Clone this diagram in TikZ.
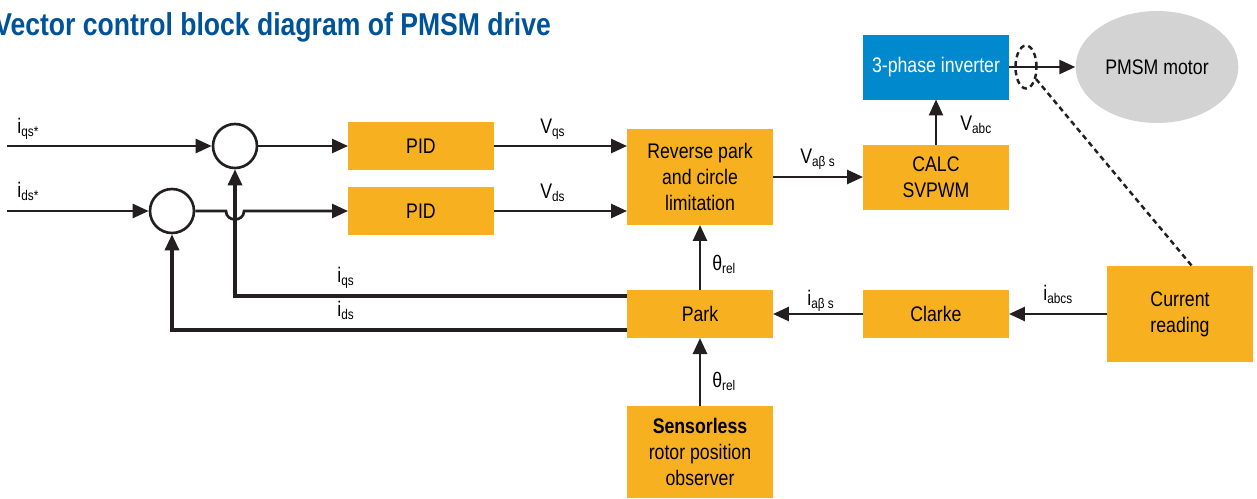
\documentclass[tikz,border=0pt]{standalone}
\usepackage{fontspec}
\setmainfont{Liberation Sans}[FakeStretch=0.84]
\usetikzlibrary{arrows.meta,shapes.geometric,calc}
\definecolor{blockorange}{RGB}{247,176,32}
\definecolor{invblue}{RGB}{0,137,204}
\definecolor{titleblue}{RGB}{0,83,150}
\definecolor{motorgray}{RGB}{211,211,212}
\definecolor{linegray}{RGB}{35,31,32}

\tikzset{
  block/.style={rectangle, fill=blockorange, minimum width=2.92cm, minimum height=0.96cm,
    inner sep=0pt, outer sep=0pt, align=center, font=\fontsize{12}{14.8}\selectfont},
  sumnode/.style={circle, draw=linegray, line width=1.5pt, minimum size=0.88cm, inner sep=0pt},
  sig/.style={line width=1.5pt, draw=linegray, -{Triangle[length=0.32cm,width=0.28cm]}},
  fb/.style={sig, line width=1.9pt},
  tapline/.style={line width=1.4pt, draw=linegray, dash pattern=on 3pt off 2.2pt},
  lbl/.style={anchor=base west, inner sep=0pt, font=\fontsize{12}{14}\selectfont},
}

\begin{document}
\begin{tikzpicture}[x=0.02cm, y=-0.02cm]
\useasboundingbox (0,0) rectangle (1257,498);

% title
\node[anchor=base west, inner sep=0pt, text=titleblue, font=\fontsize{18}{21}\selectfont\bfseries]
  (title) at (-6,35) {Vector control block diagram of PMSM drive};

% blocks
\node[block] (pid1) at (421,146) {PID};
\node[block] (pid2) at (421,211) {PID};
\node[block, minimum height=1.92cm] (rev) at (700,177) {Reverse park\\and circle\\limitation};
\node[block, minimum height=1.3cm] (svpwm) at (936,177) {CALC\\SVPWM};
\node[block, fill=invblue, text=white, minimum height=1.3cm] (inv) at (936,67) {3-phase inverter};
\node[ellipse, fill=motorgray, minimum width=2.92cm, minimum height=2.24cm,
  font=\fontsize{12}{14}\selectfont] (motor) at (1157,67) {PMSM motor};
\node[block, minimum height=1.92cm] (cur) at (1180,314) {Current\\reading};
\node[block] (clarke) at (936,314) {Clarke};
\node[block] (park) at (700,314) {Park};
\node[block, minimum height=1.84cm] (obs) at (700,452) {\textbf{Sensorless}\\rotor position\\observer};

% summing points
\node[sumnode] (sum1) at (235,146) {};
\node[sumnode] (sum2) at (172,211) {};
\coordinate (iqsin) at (7,146);
\coordinate (idsin) at (7,211);
\coordinate (hop) at (sum1.south |- sum2.east);

% current tap
\node[ellipse, tapline, minimum width=0.42cm, minimum height=0.86cm, inner sep=0pt] (tap) at (1026,67) {};

% connectors
\draw[sig] (iqsin) -- (sum1);
\draw[sig] (idsin) -- (sum2);
\draw[sig] (sum1) -- (pid1);
\draw[sig] (sum2) -- ($(hop)+(-9,0)$) to[out=-90, in=-90, looseness=1.6] ($(hop)+(9,0)$) -- (pid2);
\draw[sig] (pid1) -- (rev.west |- pid1);
\draw[sig] (pid2) -- (rev.west |- pid2);
\draw[sig] (rev) -- (svpwm);
\draw[sig] (svpwm) -- (inv);
\draw[sig] (inv) -- (motor);
\draw[sig] (cur) -- (clarke);
\draw[sig] (clarke) -- (park);
\draw[sig] (park) -- (rev);
\draw[sig] (obs) -- (park);
\draw[fb] ([yshift=0.36cm]park.west) -| (sum1);
\draw[fb] ([yshift=-0.32cm]park.west) -| (sum2);
\draw[tapline] (tap) -- (cur.76);

% signal labels
\node[lbl] (liqsref) at (17,133) {i\textsubscript{qs*}};
\node[lbl] (lidsref) at (17,197) {i\textsubscript{ds*}};
\node[lbl] (lvqs) at (540,133) {V\textsubscript{qs}};
\node[lbl] (lvds) at (540,198) {V\textsubscript{ds}};
\node[lbl] (liqs) at (337,282) {i\textsubscript{qs}};
\node[lbl] (lids) at (337,316) {i\textsubscript{ds}};
\node[lbl] (lvab) at (800,163) {V\textsubscript{aβ s}};
\node[lbl] (liab) at (807,305) {i\textsubscript{aβ s}};
\node[lbl] (lth1) at (712,270) {θ\textsubscript{rel}};
\node[lbl] (lth2) at (712,387) {θ\textsubscript{rel}};
\node[lbl] (lvabc) at (960,130) {V\textsubscript{abc}};
\node[lbl] (liabc) at (1043,300) {i\textsubscript{abcs}};
\end{tikzpicture}
\end{document}
